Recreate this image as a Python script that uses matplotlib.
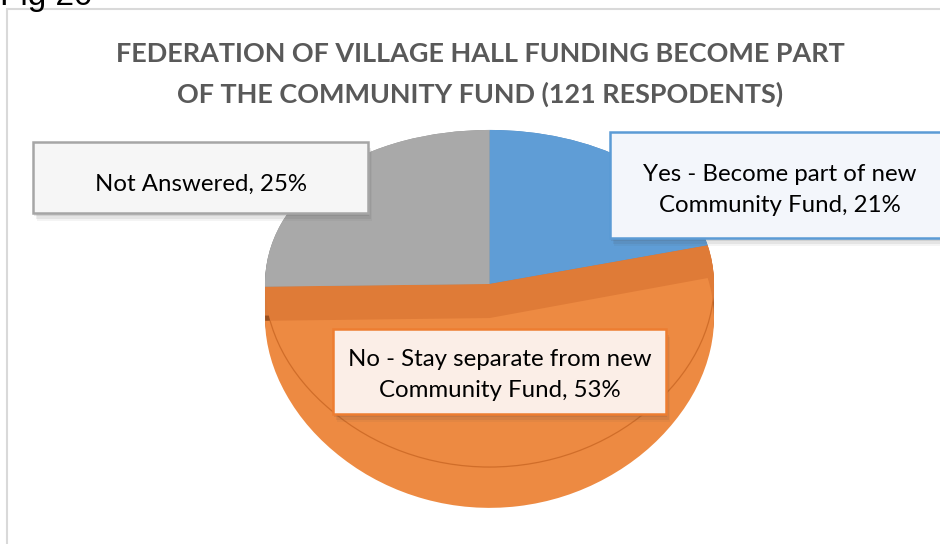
import numpy as np
import matplotlib.pyplot as plt
from matplotlib import patches, patheffects

# data
categories = ['Yes - Become part of new\nCommunity Fund',
              'No - Stay separate from new\nCommunity Fund',
              'Not Answered']
shares = [21, 53, 25]
title_lines = ['FEDERATION OF VILLAGE HALL FUNDING BECOME PART',
               'OF THE COMMUNITY FUND (121 RESPODENTS)']

# styles
top_colors = ['#5f9dd6', '#ed8a42', '#a9a9a9']
side_colors = ['#4f88c0', '#d97a3a', '#929292']
band_color = '#df7b37'
FONT = 'Lato'

W, H = 940, 544
fig = plt.figure(figsize=(W / 100, H / 100), dpi=100)
ax = fig.add_axes([0, 0, 1, 1])

# fake perspective: squeeze the back half of the pie, stretch the front
B = 0.086
def fwd(y):
    return y / (1 + B * y)
def inv(y):
    return y / (1 - B * y)
ax.set_yscale('function', functions=(fwd, inv))

pie_kw = dict(startangle=90, counterclock=False, wedgeprops=dict(linewidth=0))

# side of the cylinder: stack of pies shifted down
depth = 0.17
for c in np.linspace(-depth, 0, 30):
    side, _ = ax.pie(shares, colors=side_colors, center=(0, c), **pie_kw)
    if c == -depth:
        lowest = side[1]

# darker shading towards the left / right edges of the side
g = np.abs(np.linspace(-1, 1, 300)) ** 4
shade = np.zeros((2, 300, 4))
shade[..., 0], shade[..., 1], shade[..., 2] = 0.40, 0.18, 0.04
shade[..., 3] = 0.55 * g
im = ax.imshow(shade, extent=(-1, 1, -1.3, 0.1), aspect='auto', zorder=1,
               interpolation='bilinear')
im.set_clip_path(lowest)

# top face (orange drawn in the darker "wall" colour first)
top, _ = ax.pie(shares, colors=[top_colors[0], band_color, top_colors[2]], **pie_kw)
for w in top:
    w.set_zorder(1.5)

# lighter orange top, dropped a bit and clipped to the top ellipse
band = 0.2
rim = patches.Circle((0, 0), 1, transform=ax.transData)
shifted, _ = ax.pie(shares, colors=['none', top_colors[1], 'none'],
                    center=(0, -band), **pie_kw)
shifted[1].set_clip_path(rim)
shifted[1].set_zorder(1.6)

edge = patches.Circle((0, 0), 1, fill=False, edgecolor='#c4611f',
                      linewidth=0.9, alpha=0.7, zorder=1.7)
ax.add_patch(edge)
edge.set_clip_path(shifted[1])

CX, CY, RX, RY = 489.5, 284, 224.5, 167.3
ax.set_xlim((0 - CX) / RX, (W - CX) / RX)
ax.set_ylim(inv((CY - H) / RY), inv(CY / RY))
ax.set_aspect('auto')
ax.axis('off')

# pixel helpers
def fx(x):
    return x / W
def fy(y):
    return 1 - y / H

renderer = fig.canvas.get_renderer()
def fit_size(txt, target, weight='normal'):
    t = fig.text(0, 0, txt, fontsize=10, family=FONT, fontweight=weight)
    w = t.get_window_extent(renderer).width
    t.remove()
    return 10 * target / w

# chart border (only top / left edges fall inside the picture)
fig.patches.append(patches.Rectangle((fx(7), fy(560)), fx(950) - fx(7), fy(9) - fy(560),
                                     transform=fig.transFigure, fill=False,
                                     edgecolor='#d9d9d9', linewidth=1.5))

fig.text(fx(0), fy(5), 'Fig 20', fontsize=24, family='Liberation Sans',
         va='baseline', ha='left', color='black')

tsize = fit_size(title_lines[0], 730, 'bold')
for line, base in zip(title_lines, [62, 103]):
    fig.text(fx(480), fy(base), line, fontsize=tsize, family=FONT,
             fontweight='bold', color='#595959', ha='center', va='baseline')

# data label boxes
lsize = fit_size('Not Answered, 25%', 212)
boxes = [(610, 132, 950, 238, '#5b9bd5', '#f3f6fb', 780, [181, 212]),
         (333, 329, 666, 414, '#ed7d31', '#fbeee7', 500, [366, 397]),
         (33, 142, 368, 213, '#a6a6a6', '#f6f6f6', 201, [191])]
shadow = [patheffects.SimplePatchShadow(offset=(1, -2), alpha=0.12),
          patheffects.SimplePatchShadow(offset=(2, -4), alpha=0.09),
          patheffects.SimplePatchShadow(offset=(3, -6), alpha=0.06),
          patheffects.Normal()]
for cat, share, (x0, y0, x1, y1, ec, fc, tx, bases) in zip(categories, shares, boxes):
    r = patches.Rectangle((fx(x0), fy(y1)), fx(x1) - fx(x0), fy(y0) - fy(y1),
                          transform=fig.transFigure, facecolor=fc,
                          edgecolor=ec, linewidth=1.8, zorder=2)
    r.set_path_effects(shadow)
    fig.patches.append(r)
    lines = f'{cat}, {share}%'.split('\n')
    for line, base in zip(lines, bases):
        fig.text(fx(tx), fy(base), line, fontsize=lsize, family=FONT,
                 ha='center', va='baseline', color='black', zorder=3)

fig.savefig('out.png', dpi=100)
